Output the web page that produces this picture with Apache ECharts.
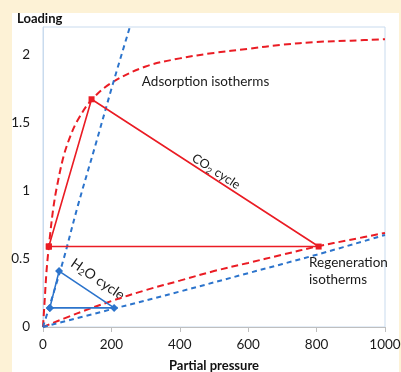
<!DOCTYPE html>
<html>
<head>
<meta charset="utf-8">
<script src="https://cdn.jsdelivr.net/npm/echarts@6/dist/echarts.min.js"></script>
<style>
  html, body { margin: 0; padding: 0; width: 401px; height: 372px; overflow: hidden; }
  #chart { width: 401px; height: 372px; }
</style>
</head>
<body>
<div id="chart"></div>
<script>
// Adsorption isotherms (high loading) and regeneration isotherms (low loading)
const co2AdsPressure = [0, 5, 10, 15, 20, 30, 40, 60, 80, 100, 140, 200, 300, 400, 500, 600, 700, 800, 900, 1000];
const co2AdsLoading  = [0, 0.20, 0.40, 0.54, 0.66, 0.87, 1.02, 1.25, 1.40, 1.51, 1.66, 1.79, 1.91, 1.97, 2.01, 2.04, 2.07, 2.09, 2.10, 2.11];

const h2oAdsPressure = [0, 56, 102, 154, 204, 254];
const h2oAdsLoading  = [0, 0.46, 0.89, 1.34, 1.78, 2.2];

const co2RegPressure = [0, 100, 200, 300, 400, 500, 600, 700, 800, 900, 1000];
const co2RegLoading  = [0, 0.10, 0.19, 0.27, 0.34, 0.41, 0.47, 0.53, 0.59, 0.64, 0.69];

const h2oRegPressure = [0, 200, 400, 600, 800, 1000];
const h2oRegLoading  = [0, 0.13, 0.26, 0.395, 0.53, 0.675];

// Swing cycles: adsorption -> regeneration -> back
const co2CyclePressure = [17, 142, 806, 17];
const co2CycleLoading  = [0.59, 1.67, 0.59, 0.59];

const h2oCyclePressure = [20, 47, 208, 20];
const h2oCycleLoading  = [0.14, 0.41, 0.14, 0.14];

const xTicks = { min: 0, max: 1000, step: 200 };
const yTicks = { min: 0, max: 2.2, step: 0.5 };

const RED = '#ea1c24';
const BLUE = '#2c74cc';
const FONT = 'Lato';

const pairs = (xs, ys) => xs.map((x, i) => [x, ys[i]]);

const chart = echarts.init(document.getElementById('chart'), null, { renderer: 'canvas' });

const dashedCurve = (name, xs, ys, color, dash) => ({
  name, type: 'line', data: pairs(xs, ys), smooth: 0.35, symbol: 'none',
  lineStyle: { color, width: 2, type: dash }, z: 2, animation: false
});

const cycle = (name, xs, ys, color, symbol, size) => ({
  name, type: 'line', data: pairs(xs, ys), symbol, symbolSize: size,
  itemStyle: { color }, lineStyle: { color, width: 1.6 }, z: 3, animation: false
});

chart.setOption({
  animation: false,
  backgroundColor: '#fdf2d6',
  textStyle: { fontFamily: FONT },
  grid: {
    left: 43, top: 27, right: 16, bottom: 45,
    outerBoundsMode: 'none', containLabel: false,
    show: true, borderColor: '#c9dbee', borderWidth: 1, backgroundColor: 'transparent'
  },
  xAxis: {
    type: 'value', min: xTicks.min, max: xTicks.max, interval: xTicks.step,
    name: 'Partial pressure', nameLocation: 'middle', nameGap: 32,
    nameTextStyle: { fontFamily: FONT, fontWeight: 'bold', fontSize: 13, color: '#111' },
    axisLine: { show: true, lineStyle: { color: '#bfbfbf', width: 1 } },
    axisTick: { show: true, inside: false, length: 5, lineStyle: { color: '#bfbfbf' } },
    axisLabel: { fontFamily: FONT, fontSize: 13.5, color: '#1a1a1a', margin: 11, formatter: v => String(v) },
    splitLine: { show: false }
  },
  yAxis: {
    type: 'value', min: yTicks.min, max: yTicks.max, interval: yTicks.step,
    axisLine: { show: true, lineStyle: { color: '#c9dbee', width: 1 } },
    axisTick: { show: false },
    axisLabel: { fontFamily: FONT, fontSize: 13.5, color: '#1a1a1a', margin: 13, showMaxLabel: false, formatter: v => String(v) },
    splitLine: { show: false }
  },
  series: [
    dashedCurve('CO2 adsorption', co2AdsPressure, co2AdsLoading, RED, [7, 4]),
    dashedCurve('H2O adsorption', h2oAdsPressure, h2oAdsLoading, BLUE, [5, 4]),
    dashedCurve('CO2 regeneration', co2RegPressure, co2RegLoading, RED, [7, 4]),
    dashedCurve('H2O regeneration', h2oRegPressure, h2oRegLoading, BLUE, [5, 4]),
    cycle('CO2 cycle', co2CyclePressure, co2CycleLoading, RED, 'rect', 6),
    cycle('H2O cycle', h2oCyclePressure, h2oCycleLoading, BLUE, 'diamond', 8)
  ]
});

// Annotations anchored in data space
const at = (p, q) => chart.convertToPixel({ gridIndex: 0 }, [p, q]);
const plain = { fontFamily: FONT, fontSize: 13.5, fill: '#1a1a1a' };
const sub = { fontFamily: FONT, fontSize: 9, fill: '#1a1a1a', verticalAlign: 'bottom', lineHeight: 8 };

const ads = at(289, 1.80);
const reg = at(778, 0.41);
const co2Lbl = at(506, 1.14);
const h2oLbl = at(160, 0.35);

chart.setOption({
  graphic: [
    // white chart panel on the cream page
    { type: 'rect', z: -10, silent: true, shape: { x: 12, y: 13, width: 387, height: 359 }, style: { fill: '#ffffff' } },
    { type: 'text', left: 17, top: 12, style: { text: 'Loading', font: 'bold 13px ' + FONT, fill: '#111' } },
    { type: 'text', x: ads[0], y: ads[1], style: { text: 'Adsorption isotherms', ...plain, verticalAlign: 'middle' } },
    { type: 'text', x: reg[0], y: reg[1], style: { text: 'Regeneration\nisotherms', ...plain, lineHeight: 17.5, verticalAlign: 'middle' } },
    {
      type: 'text', x: co2Lbl[0], y: co2Lbl[1], rotation: -0.575,
      style: {
        text: '{a|CO}{s|2}{a| cycle}', align: 'center', verticalAlign: 'middle',
        rich: { a: { ...plain, fontSize: 12.5, lineHeight: 16 }, s: sub }
      }
    },
    {
      type: 'text', x: h2oLbl[0], y: h2oLbl[1], rotation: -0.6,
      style: {
        text: '{a|H}{s|2}{a|O cycle}', align: 'center', verticalAlign: 'middle',
        rich: { a: { ...plain, fontSize: 14, lineHeight: 16 }, s: sub }
      }
    }
  ]
});
</script>
</body>
</html>
